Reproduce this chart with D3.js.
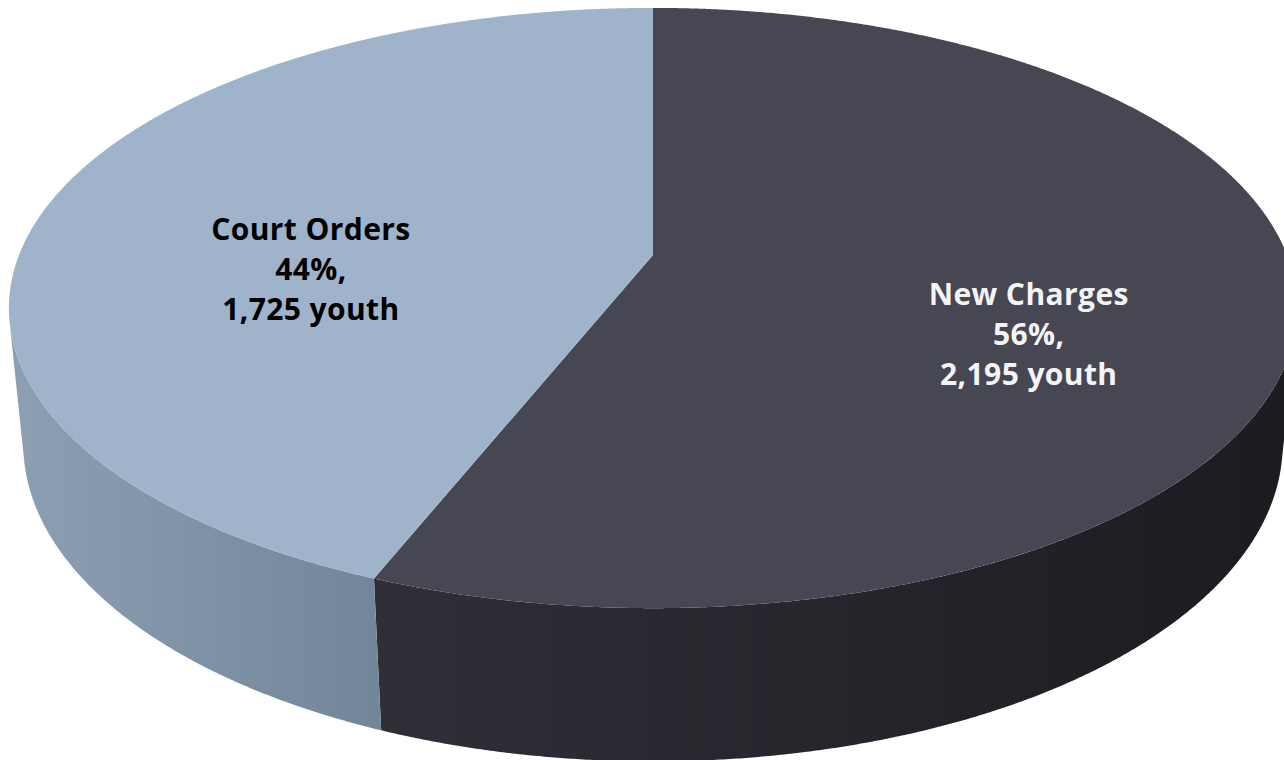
<!DOCTYPE html>
<html>
<head>
<meta charset="utf-8">
<script src="https://cdn.jsdelivr.net/npm/d3@7"></script>
<style>
  html, body { margin: 0; padding: 0; background: #ffffff; }
  svg { display: block; }
  .label { font-family: "Open Sans", Lato, sans-serif; font-weight: 700; font-size: 30px; letter-spacing: 0.4px; }
</style>
</head>
<body>
<svg id="chart" width="1284" height="760"></svg>
<script>
// Slices, clockwise from the back of the pie
const categories = ["New Charges", "Court Orders"];
const youthCounts = [2195, 1725];
const topColors = ["#474653", "#9fb4ca"];
const sideColorsLeft = ["#302f38", "#8c9fb3"];
const sideColorsRight = ["#1c1b20", "#72869a"];
const labelColors = ["#f4f4f4", "#000000"];

const width = 1284, height = 760;
const svg = d3.select("#chart");

// Camera / perspective set-up for the 3-D disc (viewer distance = 1)
const cx = 653, cy = 255;          // screen position of the disc centre
const focal = 3189;                // focal length in pixels
const radius = 0.1988;             // disc radius
const thickness = 0.0485;          // disc thickness
const tilt = 27.3 * Math.PI / 180; // elevation of the camera
const sinT = Math.sin(tilt), cosT = Math.cos(tilt);

// Project a point given by pie angle phi, radial fraction rho and height y
function project(phi, rho, y) {
  const X = radius * rho * Math.sin(phi);
  const Z = -radius * rho * Math.cos(phi);
  const depth = 1 - (Z * cosT + y * sinT);
  const v = y * cosT - Z * sinT;
  return [cx + focal * X / depth, cy - focal * v / depth];
}

const pie = d3.pie().sort(null).startAngle(0).endAngle(2 * Math.PI);
const arcs = pie(youthCounts);
const total = d3.sum(youthCounts);

// Wall generators facing the viewer: cos(phi) < -radius / cos(tilt)
const silhouette = Math.acos(-radius / cosT);
const frontStart = silhouette, frontEnd = 2 * Math.PI - silhouette;

const line = d3.line();
const step = Math.PI / 720;
function rim(a, b, rho, y) {
  const n = Math.max(2, Math.ceil((b - a) / step));
  return d3.range(n + 1).map(i => project(a + (b - a) * i / n, rho, y));
}

const defs = svg.append("defs");

// Side walls
arcs.forEach((d, i) => {
  const a = Math.max(d.startAngle, frontStart);
  const b = Math.min(d.endAngle, frontEnd);
  if (b <= a) return;
  const top = rim(a, b, 1, 0);
  const bottom = rim(a, b, 1, -thickness).reverse();
  const pts = top.concat(bottom);
  const xs = d3.extent(pts, p => p[0]);
  const gid = "side-grad-" + i;
  const g = defs.append("linearGradient")
    .attr("id", gid)
    .attr("gradientUnits", "userSpaceOnUse")
    .attr("x1", xs[0]).attr("y1", 0)
    .attr("x2", xs[1]).attr("y2", 0);
  g.append("stop").attr("offset", 0).attr("stop-color", sideColorsLeft[i]);
  g.append("stop").attr("offset", 1).attr("stop-color", sideColorsRight[i]);
  svg.append("path")
    .attr("d", line(pts) + "Z")
    .attr("fill", `url(#${gid})`);
});

// Top faces
arcs.forEach((d, i) => {
  const pts = [project(0, 0, 0)].concat(rim(d.startAngle, d.endAngle, 1, 0));
  svg.append("path")
    .attr("d", line(pts) + "Z")
    .attr("fill", topColors[i]);
});

// Labels: category, share, count
const fmt = d3.format(",");
const pct = d3.format(".0%");
arcs.forEach((d, i) => {
  const mid = (d.startAngle + d.endAngle) / 2;
  let [lx, ly] = project(mid, 0.58, -0.3 * thickness);
  lx += 10; ly += 16;
  const lines = [categories[i], pct(d.value / total) + ",", fmt(d.value) + " youth"];
  const t = svg.append("text")
    .attr("class", "label")
    .attr("text-anchor", "middle")
    .attr("fill", labelColors[i]);
  lines.forEach((s, k) => {
    t.append("tspan")
      .attr("x", lx)
      .attr("y", ly + (k - 1) * 40)
      .text(s);
  });
});
</script>
</body>
</html>
